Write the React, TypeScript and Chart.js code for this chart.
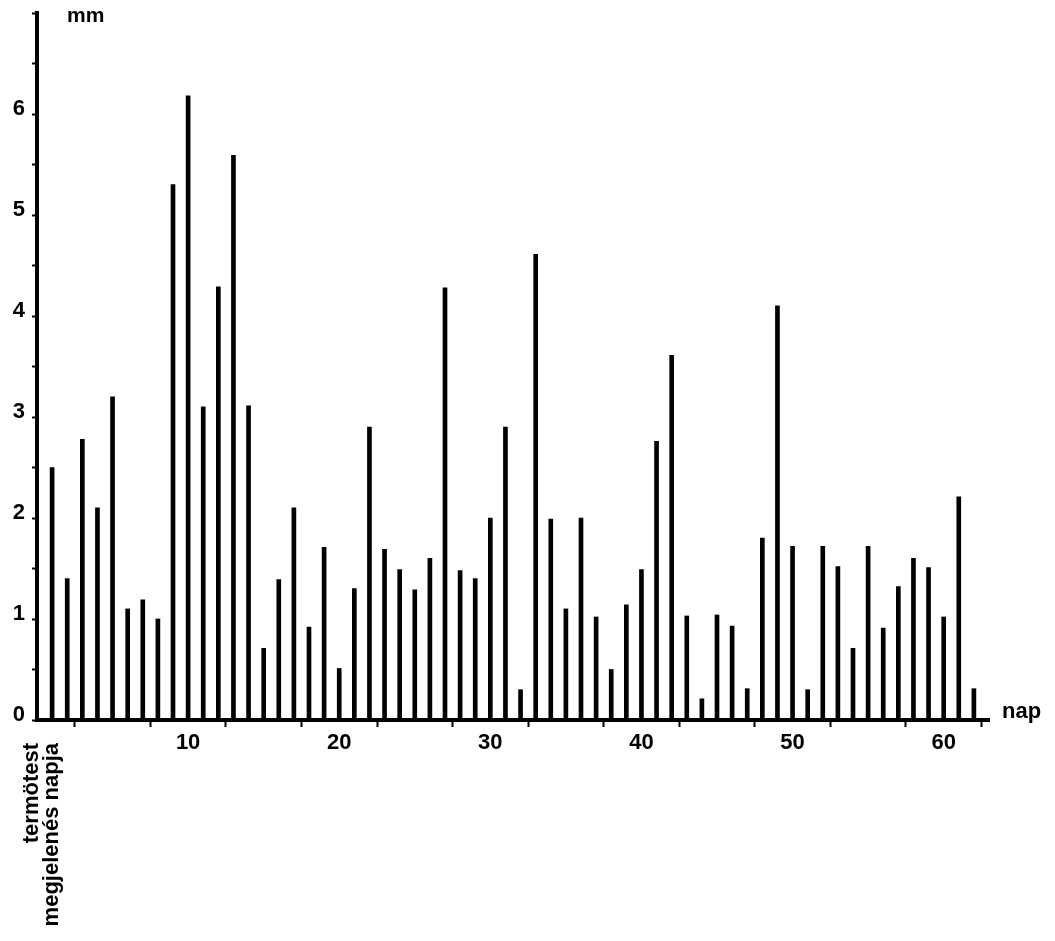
import React, { useEffect, useRef } from "react";
import { Chart, registerables } from "chart.js";

Chart.register(...registerables);

const days: number[] = [
  1, 2, 3, 4, 5, 6, 7, 8, 9, 10,
  11, 12, 13, 14, 15, 16, 17, 18, 19, 20,
  21, 22, 23, 24, 25, 26, 27, 28, 29, 30,
  31, 32, 33, 34, 35, 36, 37, 38, 39, 40,
  41, 42, 43, 44, 45, 46, 47, 48, 49, 50,
  51, 52, 53, 54, 55, 56, 57, 58, 59, 60,
  61, 62,
];

const growthMm: number[] = [
  2.5, 1.4, 2.78, 2.1, 3.2, 1.1, 1.19, 1.0, 5.3, 6.18,
  3.1, 4.29, 5.59, 3.11, 0.71, 1.39, 2.1, 0.92, 1.71, 0.51,
  1.3, 2.9, 1.69, 1.49, 1.29, 1.6, 4.28, 1.48, 1.4, 2.0,
  2.9, 0.3, 4.61, 1.99, 1.1, 2.0, 1.02, 0.5, 1.14, 1.49,
  2.76, 3.61, 1.03, 0.21, 1.04, 0.93, 0.31, 1.8, 4.1, 1.72,
  0.3, 1.72, 1.52, 0.71, 1.72, 0.91, 1.32, 1.6, 1.51, 1.02,
  2.21, 0.31,
];

const yLabels: number[] = [0, 1, 2, 3, 4, 5, 6];
const xLabels: number[] = [10, 20, 30, 40, 50, 60];

const yUnit = "mm";
const xUnit = "nap";
const originLine1 = "termötest";
const originLine2 = "megjelenés napja";

const FONT = '"Liberation Sans", Arial, Helvetica, sans-serif';

export default function App() {
  const canvasRef = useRef<HTMLCanvasElement | null>(null);

  useEffect(() => {
    const canvas = canvasRef.current;
    if (!canvas) return;

    const extraText = {
      id: "extraText",
      afterDraw(chart: any) {
        const ctx = chart.ctx as CanvasRenderingContext2D;
        const xs = chart.scales.x;
        const ys = chart.scales.y;
        ctx.save();
        ctx.fillStyle = "#000";
        ctx.font = `bold 21px ${FONT}`;
        ctx.textBaseline = "middle";
        ctx.textAlign = "left";
        ctx.fillText(yUnit, xs.left + 30, 16);
        ctx.font = `bold 22px ${FONT}`;
        ctx.fillText(xUnit, xs.right + 13, ys.getPixelForValue(0) - 8);
        // rotated origin label
        const topY = ys.getPixelForValue(0) + 23;
        ctx.font = `bold 22px ${FONT}`;
        ctx.textAlign = "right";
        ctx.textBaseline = "middle";
        ctx.save();
        ctx.translate(xs.left - 5, topY);
        ctx.rotate(-Math.PI / 2);
        ctx.fillText(originLine1, 0, 0);
        ctx.restore();
        ctx.save();
        ctx.translate(xs.left + 15, topY);
        ctx.rotate(-Math.PI / 2);
        ctx.fillText(originLine2, 0, 0);
        ctx.restore();
        ctx.restore();
      },
    };

    const chart = new Chart(canvas, {
      type: "bar",
      data: {
        datasets: [
          {
            data: days.map((d, i) => ({ x: d, y: growthMm[i] })),
            backgroundColor: "#000",
            borderWidth: 0,
            barThickness: 4,
          } as any,
        ],
      },
      options: {
        responsive: false,
        animation: false,
        layout: { padding: { top: 13, right: 66, bottom: 0, left: 0 } },
        plugins: {
          legend: { display: false },
          tooltip: { enabled: false },
        },
        scales: {
          x: {
            type: "linear",
            min: 0,
            max: 63,
            offset: false,
            afterFit: (scale: any) => {
              scale.height = 221;
            },
            border: { display: true, color: "#000", width: 4 },
            grid: {
              display: true,
              drawOnChartArea: false,
              drawTicks: true,
              tickLength: 7,
              tickColor: "#000",
              tickWidth: 2,
            },
            ticks: {
              stepSize: 5,
              includeBounds: false,
              autoSkip: false,
              maxRotation: 0,
              color: "#000",
              padding: 3,
              font: { family: FONT, size: 22, weight: "bold" },
              callback: (v: any) => (xLabels.includes(Number(v)) ? String(v) : ""),
            },
          },
          y: {
            type: "linear",
            min: 0,
            max: 7,
            afterFit: (scale: any) => {
              scale.width = 37;
              scale.paddingTop = 0;
            },
            border: { display: true, color: "#000", width: 4 },
            grid: {
              display: true,
              drawOnChartArea: false,
              drawTicks: true,
              tickLength: 5,
              tickColor: "#000",
              tickWidth: 2,
            },
            ticks: {
              stepSize: 0.5,
              includeBounds: false,
              autoSkip: false,
              color: "#000",
              padding: 7,
              labelOffset: -5,
              font: { family: FONT, size: 22, weight: "bold" },
              callback: (v: any) => (yLabels.includes(Number(v)) ? String(v) : ""),
            },
          },
        },
      } as any,
      plugins: [extraText],
    });

    return () => chart.destroy();
  }, []);

  return (
    <div style={{ position: "fixed", left: 0, top: 0, width: 1055, height: 941, background: "#fff" }}>
      <canvas ref={canvasRef} width={1055} height={941} style={{ display: "block" }} />
    </div>
  );
}
